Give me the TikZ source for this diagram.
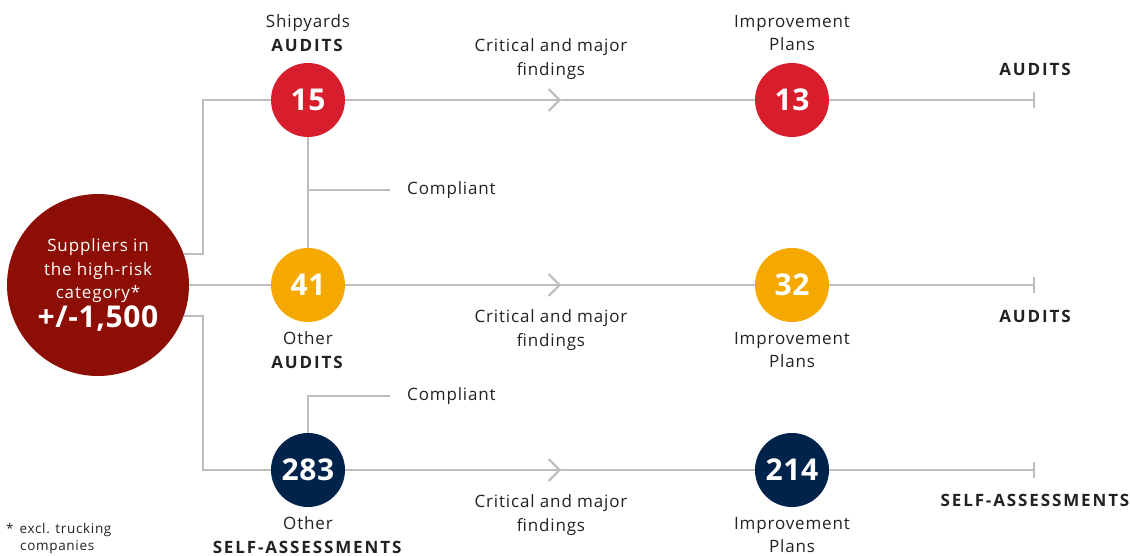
\documentclass[tikz,border=0pt]{standalone}
\usepackage{fontspec}
\setmainfont{Open Sans}[LetterSpace=5,BoldFeatures={LetterSpace=11}]
\newfontfamily\numfont{Open Sans}[LetterSpace=2]
\usetikzlibrary{arrows.meta}
\definecolor{supred}{HTML}{8C0E04}
\definecolor{shipred}{HTML}{D81E2C}
\definecolor{othorange}{HTML}{F5A800}
\definecolor{selfnavy}{HTML}{00234C}
\definecolor{linegray}{HTML}{BDBDBD}
\definecolor{txtgray}{HTML}{222222}

\begin{document}
\begin{tikzpicture}[x=1pt,y=-1pt,
  every node/.style={inner sep=0pt},
  num/.style={circle,minimum size=74pt,text=white,font=\numfont\fontsize{30}{30}\selectfont\bfseries},
  lbl/.style={text=txtgray,align=center,font=\fontsize{17}{23.5}\selectfont},
  link/.style={draw=linegray,line width=2pt},
  chev/.style={-{Straight Barb[length=11pt,width=22pt,line width=2pt]}},
  endbar/.style={-{Bar[width=16pt,line width=2pt]}}]
\useasboundingbox (0,0) rectangle (1130,556);
% circles
\node[circle,minimum size=182pt,fill=supred,text=white,align=center,
  font=\fontsize{17}{23.5}\selectfont] (sup) at (98,285)
  {Suppliers in\\the high-risk\\category*\\[2pt]{\numfont\fontsize{30}{30}\selectfont\bfseries +/-1,500}};
\node[num,fill=shipred] (c15) at (308,100) {15};
\node[num,fill=othorange] (c41) at (308,285) {41};
\node[num,fill=selfnavy] (c283) at (308,470) {283};
\node[num,fill=shipred] (i13) at (792,100) {13};
\node[num,fill=othorange] (i32) at (792,285) {32};
\node[num,fill=selfnavy] (i214) at (792,470) {214};
% chevrons and line ends
\coordinate (m1) at (561,100);
\coordinate (m2) at (561,285);
\coordinate (m3) at (561,470);
\coordinate (e1) at (1035,100);
\coordinate (e2) at (1035,285);
\coordinate (e3) at (1035,470);
\coordinate (k1) at (308,190);
% labels
\node[lbl] (shipl) at (308,33) {Shipyards\\\textbf{AUDITS}};
\node[lbl] (oth1) at (308,350) {Other\\\textbf{AUDITS}};
\node[lbl] (oth2) at (308,535) {Other\\\textbf{SELF-ASSESSMENTS}};
\node[lbl] (crit1) at (551,59) {Critical and major\\findings};
\node[lbl] (crit2) at (551,330) {Critical and major\\findings};
\node[lbl] (crit3) at (551,515) {Critical and major\\findings};
\node[lbl] (imp1) at (792,33) {Improvement\\Plans};
\node[lbl] (imp2) at (792,350) {Improvement\\Plans};
\node[lbl] (imp3) at (792,535) {Improvement\\Plans};
\node[lbl,font=\fontsize{17}{20}\selectfont\bfseries] (aud1) at (1035,69) {AUDITS};
\node[lbl,font=\fontsize{17}{20}\selectfont\bfseries] (aud2) at (1035,316) {AUDITS};
\node[lbl,font=\fontsize{17}{20}\selectfont\bfseries] (sa3) at (1035,500) {SELF-ASSESSMENTS};
\node[lbl,anchor=west] (cmp1) at (407,190) {Compliant};
\node[lbl,anchor=west] (cmp2) at (407,396) {Compliant};
\node[lbl,align=left,anchor=north west,font=\fontsize{13.5}{17}\selectfont] (note) at (6,523)
  {*\hspace{6pt}excl. trucking\\\hspace{14pt}companies};
% connectors
\draw[link] (sup.20) -- ++(19.5,0) |- (c15);
\draw[link] (sup) -- (c41);
\draw[link] (sup.-20) -- ++(19.5,0) |- (c283);
\draw[link] (c15) -- (c41);
\draw[link] (k1) -- ([xshift=-17pt]cmp1.west);
\draw[link] (c283) |- ([xshift=-17pt]cmp2.west);
\draw[link,chev] (c15) -- (m1);
\draw[link] (m1) -- (i13);
\draw[link,chev] (c41) -- (m2);
\draw[link] (m2) -- (i32);
\draw[link,chev] (c283) -- (m3);
\draw[link] (m3) -- (i214);
\draw[link,endbar] (i13) -- (e1);
\draw[link,endbar] (i32) -- (e2);
\draw[link,endbar] (i214) -- (e3);
\end{tikzpicture}
\end{document}
